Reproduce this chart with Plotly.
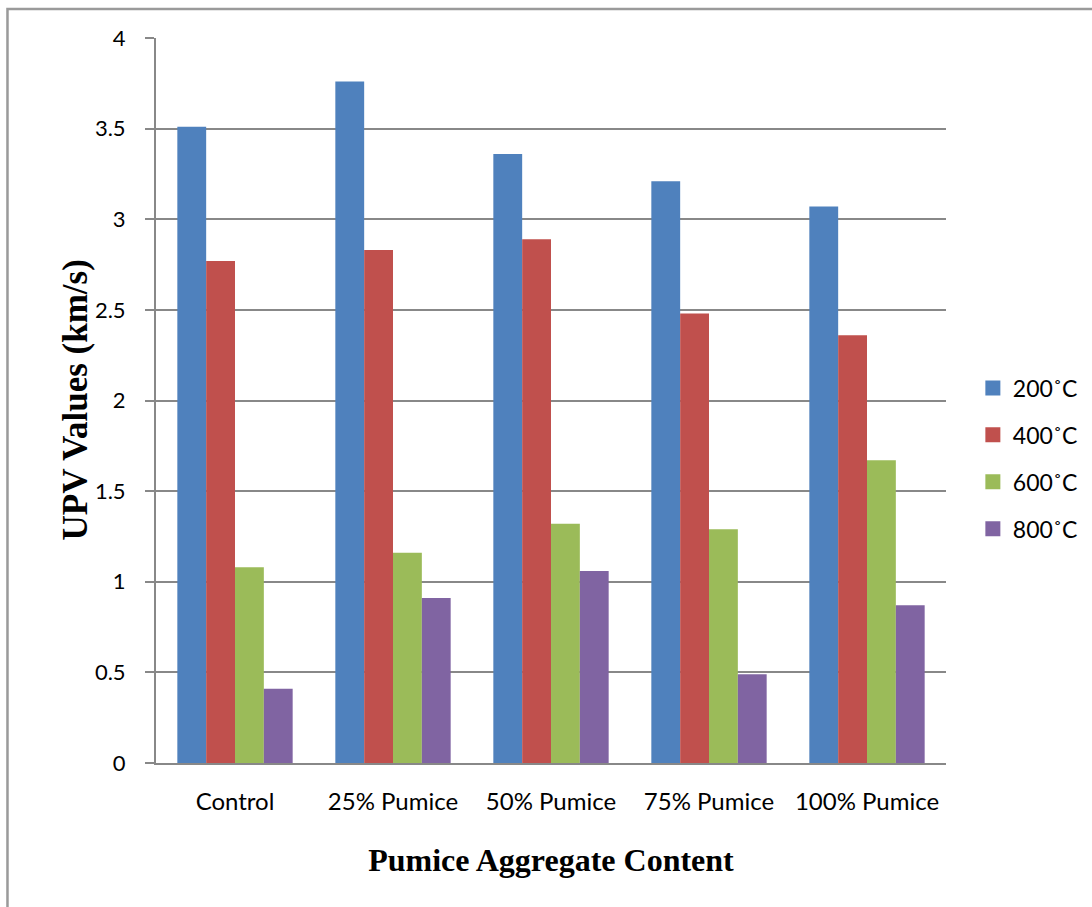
import plotly.graph_objects as go

categories = ["Control", "25% Pumice", "50% Pumice", "75% Pumice", "100% Pumice"]
series_names = ["200˚C", "400˚C", "600˚C", "800˚C"]
upv_200 = [3.51, 3.76, 3.36, 3.21, 3.07]
upv_400 = [2.77, 2.83, 2.89, 2.48, 2.36]
upv_600 = [1.08, 1.16, 1.32, 1.29, 1.67]
upv_800 = [0.41, 0.91, 1.06, 0.49, 0.87]
y_ticks = [0, 0.5, 1, 1.5, 2, 2.5, 3, 3.5, 4]

colors = ["#4F81BD", "#C0504D", "#9BBB59", "#8064A2"]
values = [upv_200, upv_400, upv_600, upv_800]

fig = go.Figure()
for name, vals, col in zip(series_names, values, colors):
    fig.add_trace(go.Bar(
        x=categories, y=vals, name=name, showlegend=False,
        marker=dict(color=col, line=dict(width=0)),
    ))
# square legend swatches
for name, col in zip(series_names, colors):
    fig.add_trace(go.Scatter(
        x=[None], y=[None], mode="markers", name=name, legendgroup=name,
        marker=dict(symbol="square", size=15, color=col),
    ))

grid_col = "#888888"
title_font = "'Liberation Serif', 'Times New Roman', serif"
fig.update_layout(
    width=1092, height=907,
    margin=dict(l=156, r=146, t=38, b=144, autoexpand=False),
    paper_bgcolor="white", plot_bgcolor="white",
    barmode="group", bargap=0.27, bargroupgap=0,
    font=dict(family="Lato, 'Open Sans', sans-serif", size=24, color="black"),
    legend=dict(
        x=1.034, y=0.42, xanchor="left", yanchor="middle",
        font=dict(size=23), tracegroupgap=14,
        itemwidth=30,
    ),
    xaxis=dict(
        showline=True, linecolor=grid_col, linewidth=2,
        ticks="", tickfont=dict(size=24), ticklabelstandoff=16,
        title=dict(text="<b>Pumice Aggregate Content</b>",
                   font=dict(family=title_font, size=32),
                   standoff=35),
    ),
    yaxis=dict(
        range=[0, 4], tickvals=y_ticks, ticktext=[f"{v:g}" for v in y_ticks],
        showgrid=True, gridcolor=grid_col, gridwidth=1.5,
        showline=True, linecolor=grid_col, linewidth=2,
        ticks="outside", ticklen=9, tickcolor=grid_col, tickwidth=1.5,
        tickfont=dict(size=22), ticklabelstandoff=15, zeroline=False,
    ),
    annotations=[dict(
        text="<b>UPV Values (km/s)</b>", textangle=-90,
        xref="paper", yref="paper", x=-0.1025, y=0.5,
        xanchor="center", yanchor="middle", showarrow=False,
        font=dict(family=title_font, size=35),
    )],
    shapes=[dict(type="rect", xref="paper", yref="paper",
                 x0=-0.188, x1=1.3, y0=-0.3, y1=1.04,
                 line=dict(color="#9a9a9a", width=2.5), layer="below")],
)

fig.write_html("out.html")
